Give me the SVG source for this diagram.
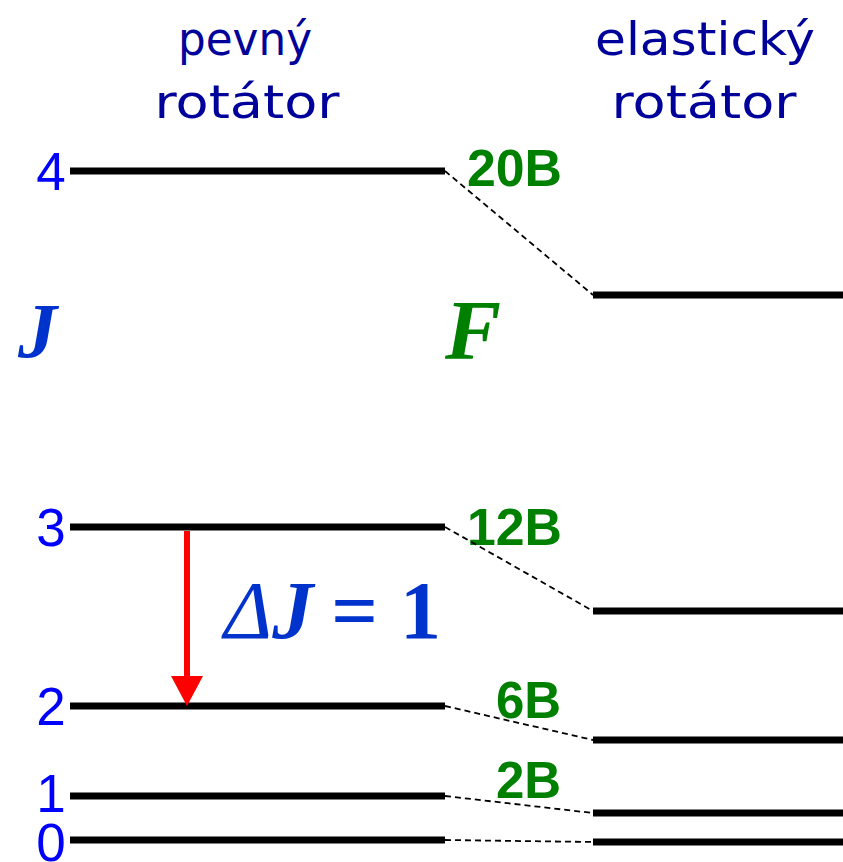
<svg xmlns="http://www.w3.org/2000/svg" width="843" height="862" viewBox="0 0 843 862">
  <style>
    .head { font-family: "DejaVu Sans", "Liberation Sans", sans-serif; font-size: 46px; fill: #00009a; text-anchor: middle; }
    .jnum { font-family: "Liberation Sans", Arial, sans-serif; font-size: 53px; fill: #0000ff; text-anchor: middle; }
    .energy { font-family: "Liberation Sans", Arial, sans-serif; font-size: 51px; font-weight: bold; fill: #008000; }
    .sym { font-family: "Liberation Serif", "Times New Roman", serif; font-weight: bold; font-style: italic; }
    .level { stroke: #000; stroke-width: 7; }
    .link { stroke: #000; stroke-width: 1.8; stroke-dasharray: 6 4; fill: none; }
  </style>
  <rect width="843" height="862" fill="#fff"/>

  <!-- column headings -->
  <g id="heading-rigid">
    <text class="head" x="245" y="55" textLength="134" lengthAdjust="spacingAndGlyphs">pevný</text>
    <text class="head" x="247" y="118" textLength="185" lengthAdjust="spacingAndGlyphs">rotátor</text>
  </g>
  <g id="heading-elastic">
    <text class="head" x="705" y="55" textLength="220" lengthAdjust="spacingAndGlyphs">elastický</text>
    <text class="head" x="704" y="118" textLength="185" lengthAdjust="spacingAndGlyphs">rotátor</text>
  </g>

  <!-- axis symbols -->
  <g id="symbol-J"><text class="sym" x="18" y="357" font-size="78" fill="#0033cc">J</text></g>
  <g id="symbol-F"><text class="sym" x="445" y="359" font-size="84" fill="#008000">F</text></g>

  <!-- rigid rotor levels -->
  <g id="rigid-J4"><line class="level" x1="70" y1="171" x2="445" y2="171"/><text class="jnum" x="51" y="190">4</text></g>
  <g id="rigid-J3"><line class="level" x1="70" y1="527" x2="445" y2="527"/><text class="jnum" x="51" y="546">3</text></g>
  <g id="rigid-J2"><line class="level" x1="70" y1="706" x2="445" y2="706"/><text class="jnum" x="51" y="725">2</text></g>
  <g id="rigid-J1"><line class="level" x1="70" y1="796" x2="445" y2="796"/><text class="jnum" x="51" y="812">1</text></g>
  <g id="rigid-J0"><line class="level" x1="70" y1="840" x2="445" y2="840"/><text class="jnum" x="51" y="861">0</text></g>

  <!-- energy labels -->
  <g id="energy-20B"><text class="energy" x="467" y="186" textLength="95" lengthAdjust="spacingAndGlyphs">20B</text></g>
  <g id="energy-12B"><text class="energy" x="467" y="545" textLength="95" lengthAdjust="spacingAndGlyphs">12B</text></g>
  <g id="energy-6B"><text class="energy" x="496" y="718">6B</text></g>
  <g id="energy-2B"><text class="energy" x="496" y="798">2B</text></g>

  <!-- elastic rotor levels -->
  <g id="elastic-J4"><line class="level" x1="593" y1="295" x2="843" y2="295"/></g>
  <g id="elastic-J3"><line class="level" x1="593" y1="611" x2="843" y2="611"/></g>
  <g id="elastic-J2"><line class="level" x1="593" y1="740" x2="843" y2="740"/></g>
  <g id="elastic-J1"><line class="level" x1="593" y1="813" x2="843" y2="813"/></g>
  <g id="elastic-J0"><line class="level" x1="593" y1="842" x2="843" y2="842"/></g>

  <!-- correlation lines and transition -->
  <g id="connectors">
    <line class="link" x1="445" y1="171" x2="593" y2="295"/>
    <line class="link" x1="445" y1="527" x2="593" y2="611"/>
    <line class="link" x1="445" y1="706" x2="593" y2="740"/>
    <line class="link" x1="445" y1="796" x2="593" y2="813"/>
    <line class="link" x1="445" y1="840" x2="593" y2="842"/>
    <line x1="187" y1="531" x2="187" y2="676" stroke="#ff0000" stroke-width="6"/>
    <path d="M171,676 L203,676 L187,706 z" fill="#ff0000"/>
  </g>

  <!-- selection rule -->
  <g id="rule">
    <text x="224" y="638" font-family="'Liberation Serif', 'Times New Roman', serif" font-size="82" fill="#0033cc" font-weight="bold"><tspan font-style="italic" font-weight="normal">Δ</tspan><tspan font-style="italic">J</tspan><tspan dx="18">=</tspan><tspan dx="22">1</tspan></text>
  </g>
</svg>
